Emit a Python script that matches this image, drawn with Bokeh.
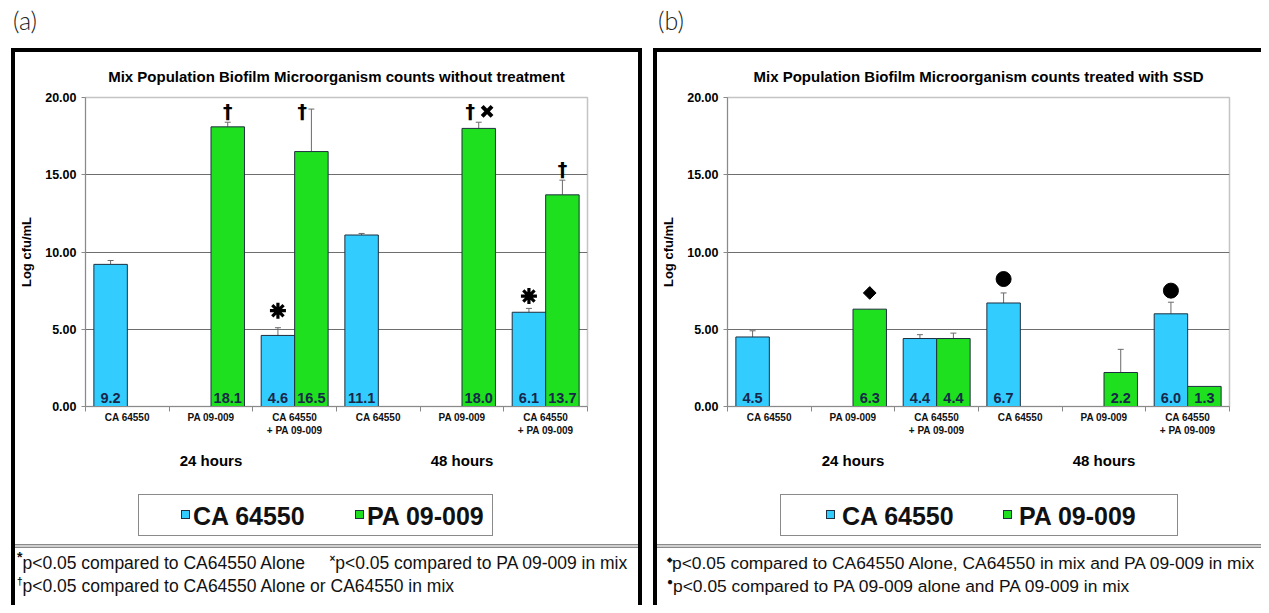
import math
from bokeh.plotting import figure
from bokeh.models import (ColumnDataSource, FixedTicker, LinearAxis, Range1d, Whisker, TeeHead,
                          Div, Spacer, NumeralTickFormatter)
from bokeh.layouts import row, column
from bokeh.core.properties import value
from bokeh.embed import file_html
from bokeh.resources import INLINE

# ---------------- data ----------------
categories = ["CA 64550", "PA 09-009", "CA 64550\n+ PA 09-009",
              "CA 64550", "PA 09-009", "CA 64550\n+ PA 09-009"]
time_labels = ["24 hours", "48 hours"]
series_names = ["CA 64550", "PA 09-009"]
y_ticks = [0, 5, 10, 15, 20]

# panel (a): without treatment
a_ca = [9.2, None, 4.6, 11.1, None, 6.1]
a_ca_sd = [0.25, None, 0.5, 0.1, None, 0.25]
a_pa = [None, 18.1, 16.5, None, 18.0, 13.7]
a_pa_sd = [None, 0.3, 2.75, None, 0.4, 0.95]

# panel (b): treated with SSD
b_ca = [4.5, None, 4.4, 6.7, None, 6.0]
b_ca_sd = [0.4, None, 0.25, 0.65, None, 0.75]
b_pa = [None, 6.3, 4.4, None, 2.2, 1.3]
b_pa_sd = [None, None, 0.35, None, 1.5, None]

# significance symbols (x in group units, y in Log cfu/mL)
a_dagger_x = [1.7, 2.59, 4.6, 5.7]
a_dagger_y = [19.1, 19.1, 19.1, 15.35]
a_cross_x = [4.8]
a_cross_y = [19.1]
a_star_x = [2.3, 5.3]
a_star_y = [6.2, 7.15]
b_diamond_x = [1.7]
b_diamond_y = [7.35]
b_circle_x = [3.3, 5.3]
b_circle_y = [8.25, 7.5]

title_a = "Mix Population Biofilm Microorganism counts without treatment"
title_b = "Mix Population Biofilm Microorganism counts treated with SSD"
SUP = 'line-height:0; font-weight:bold;'
foot_a = [f'<sup style="{SUP} font-size:14px">*</sup>p&lt;0.05 compared to CA64550 Alone&nbsp;&nbsp;&nbsp;&nbsp;&nbsp;'
          f'<sup style="{SUP} font-size:10px">&#215;</sup>p&lt;0.05 compared to PA 09-009 in mix',
          f'<sup style="{SUP} font-size:10px">&#8224;</sup>p&lt;0.05 compared to CA64550 Alone or CA64550 in mix']
foot_b = [f'<sup style="{SUP} font-size:7px">&#9670;</sup>p&lt;0.05 compared to CA64550 Alone, CA64550 in mix and PA 09-009 in mix',
          f'<sup style="{SUP} font-size:10px">&#9679;</sup>p&lt;0.05 compared to PA 09-009 alone and PA 09-009 in mix']

FONT = "Liberation Sans"
BLUE = "#33ccff"
GREEN = "#1ee01e"
OUT = "#1f2f3f"
FIG_H = 428


def series_source(vals, sds, offset):
    xs, tops, ups, lbls = [], [], [], []
    for i, v in enumerate(vals):
        if v is None:
            continue
        xs.append(i + 0.5 + offset)
        tops.append(v)
        sd = sds[i]
        ups.append(v + sd if sd else None)
        lbls.append(f"{v:.1f}")
    return ColumnDataSource(dict(x=xs, top=tops, up=ups, lbl=lbls))


def make_fig(title, ca, ca_sd, pa, pa_sd, width, min_right):
    p = figure(width=width, height=FIG_H, x_range=Range1d(0, 6), y_range=Range1d(0, 20),
               output_backend="svg", toolbar_location=None,
               min_border_left=70, min_border_right=min_right,
               min_border_top=44, min_border_bottom=FIG_H - 44 - 310,
               background_fill_color="white", border_fill_color="white")
    p.outline_line_color = "#c4c4c4"
    p.outline_line_width = 1.5

    p.title.text = title
    p.title.align = "center"
    p.title.text_font = FONT
    p.title.text_font_size = "15px"
    p.title.text_font_style = "bold"
    p.title.text_color = "black"
    p.title.standoff = 26

    # y axis
    yax = p.yaxis[0]
    yax.ticker = FixedTicker(ticks=y_ticks)
    yax.formatter = NumeralTickFormatter(format="0.00")
    yax.axis_label = "Log cfu/mL"
    yax.axis_label_text_font = FONT
    yax.axis_label_text_font_style = "bold"
    yax.axis_label_text_font_size = "13px"
    yax.axis_label_text_color = "black"
    yax.axis_label_standoff = 8
    yax.major_label_text_font = FONT
    yax.major_label_text_font_style = "bold"
    yax.major_label_text_font_size = "12.5px"
    yax.major_label_text_color = "black"
    yax.major_label_standoff = 5
    yax.major_tick_out = 4
    yax.major_tick_in = 0
    yax.minor_tick_line_color = None
    yax.axis_line_color = "#8a8a8a"
    yax.major_tick_line_color = "#8a8a8a"

    # x axis (categories)
    xax = p.xaxis[0]
    xax.ticker = FixedTicker(ticks=[i + 0.5 for i in range(len(categories))],
                             minor_ticks=list(range(len(categories) + 1)))
    xax.major_label_overrides = {i + 0.5: c for i, c in enumerate(categories)}
    xax.major_label_text_font = FONT
    xax.major_label_text_font_style = "bold"
    xax.major_label_text_font_size = "10px"
    xax.major_label_text_color = "#111"
    xax.major_label_standoff = 0
    xax.major_tick_out = 0
    xax.major_tick_in = 0
    xax.minor_tick_out = 5
    xax.minor_tick_in = 0
    xax.minor_tick_line_color = "#8a8a8a"
    xax.axis_line_color = "#8a8a8a"

    # time axis
    tax = LinearAxis(ticker=FixedTicker(ticks=[1.5, 4.5]),
                     major_label_overrides={1.5: time_labels[0], 4.5: time_labels[1]},
                     axis_line_color=None, major_tick_line_color=None, minor_tick_line_color=None,
                     major_label_standoff=7, major_label_text_font=FONT,
                     major_label_text_font_style="bold", major_label_text_font_size="15px",
                     major_label_text_color="black")
    p.add_layout(tax, "below")

    p.xgrid.visible = False
    p.ygrid.ticker = FixedTicker(ticks=[5, 10, 15])
    p.ygrid.grid_line_color = "#6e6e6e"
    p.ygrid.grid_line_width = 1

    s_ca = series_source(ca, ca_sd, -0.2)
    s_pa = series_source(pa, pa_sd, 0.2)
    p.vbar(x="x", top="top", width=0.4, source=s_ca, fill_color=BLUE, line_color=OUT, line_width=1)
    p.vbar(x="x", top="top", width=0.4, source=s_pa, fill_color=GREEN, line_color=OUT, line_width=1)
    for s in (s_ca, s_pa):
        p.add_layout(Whisker(source=s, base="x", lower="top", upper="up",
                             line_color="#6a6a6a", line_width=1, lower_head=None,
                             upper_head=TeeHead(size=6, line_color="#6a6a6a", line_width=1)))
        p.text(x="x", y=0.22, text="lbl", source=s, text_align="center",
               text_baseline="bottom", text_font=value(FONT), text_font_style="bold",
               text_font_size="14.5px", text_color="#18264a")
    return p


def sym_text(p, xs, ys, sym, size="19px"):
    p.text(x=xs, y=ys, text=[sym] * len(xs), text_align="center", text_baseline="middle",
           text_font=value("DejaVu Sans"), text_font_style="bold", text_font_size=size,
           text_color="black")


fig_a = make_fig(title_a, a_ca, a_ca_sd, a_pa, a_pa_sd, 623, 51)
sym_text(fig_a, a_dagger_x, a_dagger_y, "\u2020")
fig_a.scatter(a_cross_x, a_cross_y, marker="x", size=14, line_width=4, line_color="black")
fig_a.scatter(a_star_x, a_star_y, marker="asterisk", size=16, line_width=3.2, line_color="black")

fig_b = make_fig(title_b, b_ca, b_ca_sd, b_pa, b_pa_sd, 604, 32)
fig_b.scatter(b_diamond_x, b_diamond_y, marker="square", size=9, angle=math.pi / 4,
              fill_color="black", line_color="black", line_width=1)
fig_b.scatter(b_circle_x, b_circle_y, marker="circle", size=15, fill_color="black",
              line_color="black")


def legend_div(w, box_left, box_w, sq1, tx1, sq2, tx2):
    def sq(x, color):
        return (f'<div style="position:absolute; left:{x}px; top:30px; width:9px; height:9px; '
                f'background:{color}; border:1px solid {OUT};"></div>')

    def tx(x, t):
        return (f'<div style="position:absolute; left:{x}px; top:14px; height:44px; line-height:44px; '
                f'font-family:\'Liberation Sans\'; font-weight:bold; font-size:25px; color:#111; '
                f'white-space:nowrap;">{t}</div>')
    html = (f'<div style="position:relative; width:{w}px; height:64px;">'
            f'<div style="position:absolute; left:{box_left}px; top:14px; width:{box_w - 2}px; height:42px; '
            f'border:1px solid #8a8a8a;"></div>'
            + sq(sq1, BLUE) + tx(tx1, series_names[0]) + sq(sq2, GREEN) + tx(tx2, series_names[1])
            + '</div>')
    return Div(text=html, width=w, height=64, margin=0)


def bar(w, h, color="black"):
    return Div(text="", width=w, height=h, margin=0, styles={"background-color": color})


def label_div(txt, w, pad_left):
    return Div(text=f'<div style="font-family:Lato; font-weight:300; font-size:25px; color:#222; '
                    f'padding:5px 0 0 {pad_left}px; line-height:30px;">{txt}</div>',
               width=w, height=48, margin=0)


def foot_div(lines, w, pad_left, size):
    html = "<br>".join(lines)
    return Div(text=f'<div style="font-family:\'Liberation Sans\'; font-size:{size}px; color:#111; '
                    f'line-height:23px; padding:4px 0 0 {pad_left}px; white-space:nowrap;">{html}</div>',
               width=w, height=57, margin=0)


def divider(w):
    return Div(text="", width=w, height=4, margin=0,
               styles={"background-color": "#d0d0d0", "border-top": "1px solid #8a8a8a",
                       "border-bottom": "1px solid #8a8a8a", "box-sizing": "border-box"})


H_BODY = FIG_H + 64 + 4 + 57
panel_a = column(label_div("(a)", 631, 2), bar(631, 4),
                 row(bar(4, H_BODY),
                     column(fig_a, legend_div(623, 123, 357, 166, 178, 340, 352),
                            divider(623), foot_div(foot_a, 623, 2, 17.5)),
                     bar(4, H_BODY)))
panel_b = column(label_div("(b)", 608, 5), bar(608, 4),
                 row(bar(4, H_BODY),
                     column(fig_b, legend_div(604, 123, 400, 169, 185, 346, 362),
                            divider(604), foot_div(foot_b, 604, 10, 17.4))))

page = row(Spacer(width=11, height=10, margin=0), panel_a, Spacer(width=11, height=10, margin=0), panel_b)

open("out.html", "w").write(file_html(page, INLINE, title="Mix Population Biofilm"))
